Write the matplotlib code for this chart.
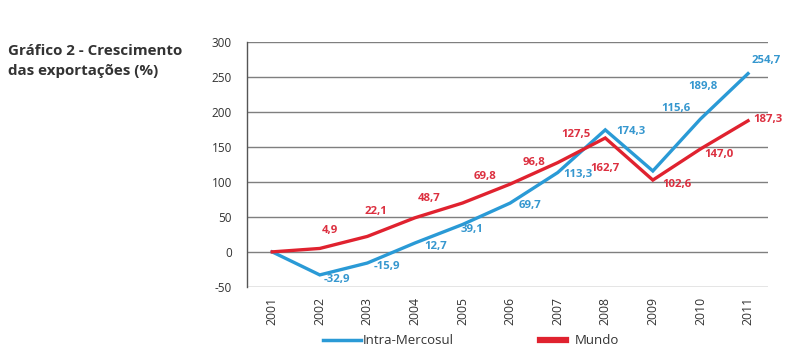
import matplotlib.pyplot as plt
from matplotlib.lines import Line2D

years = [2001, 2002, 2003, 2004, 2005, 2006, 2007, 2008, 2009, 2010, 2011]
intra_mercosul = [0, -32.9, -15.9, 12.7, 39.1, 69.7, 113.3, 174.3, 115.6, 189.8, 254.7]
mundo = [0, 4.9, 22.1, 48.7, 69.8, 96.8, 127.5, 162.7, 102.6, 147.0, 187.3]
intra_labels = ['', '-32,9', '-15,9', '12,7', '39,1', '69,7', '113,3', '174,3', '115,6', '189,8', '254,7']
mundo_labels = ['', '4,9', '22,1', '48,7', '69,8', '96,8', '127,5', '162,7', '102,6', '147,0', '187,3']

# label offsets in pixels (dx, dy)
intra_off = [(0, 0), (17, -5), (20, -3), (21, -4), (9, -5), (20, -2), (20, -2), (26, -2), (23, 62), (3, 33), (18, 13)]
mundo_off = [(0, 0), (10, 18), (9, 25), (14, 19), (22, 27), (24, 22), (18, 28), (0, -31), (24, -4), (19, -6), (20, 1)]

BLUE = '#2a9ad6'
RED = '#e0222f'
BLUE_TXT = '#3597cf'
RED_TXT = '#dc3040'

plt.rcParams['font.family'] = ['Open Sans', 'DejaVu Sans']
plt.rcParams['axes.unicode_minus'] = False

fig = plt.figure(figsize=(8, 3.52), dpi=100)
ax = fig.add_axes([0.309, 0.185, 0.651, 0.696])

ax.plot(years, intra_mercosul, color=BLUE, lw=2.4, solid_joinstyle='miter', zorder=3)
ax.plot(years, mundo, color=RED, lw=2.4, solid_joinstyle='miter', zorder=3)

for x, y, t, (dx, dy) in zip(years, intra_mercosul, intra_labels, intra_off):
    if t:
        ax.annotate(t, (x, y), xytext=(dx, dy), textcoords='offset pixels',
                    ha='center', va='center', fontsize=8.2, fontweight='bold',
                    color=BLUE_TXT, zorder=4)
for x, y, t, (dx, dy) in zip(years, mundo, mundo_labels, mundo_off):
    if t:
        ax.annotate(t, (x, y), xytext=(dx, dy), textcoords='offset pixels',
                    ha='center', va='center', fontsize=8.2, fontweight='bold',
                    color=RED_TXT, zorder=4)

ax.set_xlim(2000.475, 2011.42)
ax.set_ylim(-50, 300)
ax.set_yticks(range(-50, 301, 50))
ax.set_xticks(years)
ax.set_xticklabels([str(y) for y in years], rotation=90, fontsize=8.8, color='#333333')
ax.tick_params(axis='y', labelsize=8.5, labelcolor='#333333', length=0, pad=11)
ax.tick_params(axis='x', length=0, pad=7)
ax.grid(axis='y', color='#7f7f7f', lw=1)
for s in ['top', 'right', 'bottom']:
    ax.spines[s].set_visible(False)
ax.spines['left'].set_color('#555555')
ax.spines['left'].set_linewidth(1)
ax.set_axisbelow(True)

fig.text(0.01, 0.876, 'Gráfico 2 - Crescimento\ndas exportações (%)', fontsize=10.9,
         fontweight='bold', color='#333333', va='top', ha='left', linespacing=1.62)

# legend drawn by hand, handles of different length and weight as in the reference
fig.add_artist(Line2D([0.404, 0.451], [0.034, 0.034], color=BLUE, lw=2.5, transform=fig.transFigure))
fig.text(0.453, 0.034, 'Intra-Mercosul', fontsize=9.5, color='#333333', va='center', ha='left')
fig.add_artist(Line2D([0.675, 0.707], [0.034, 0.034], color=RED, lw=4.5, transform=fig.transFigure))
fig.text(0.719, 0.034, 'Mundo', fontsize=9.5, color='#333333', va='center', ha='left')

fig.savefig('out.png', dpi=100)
